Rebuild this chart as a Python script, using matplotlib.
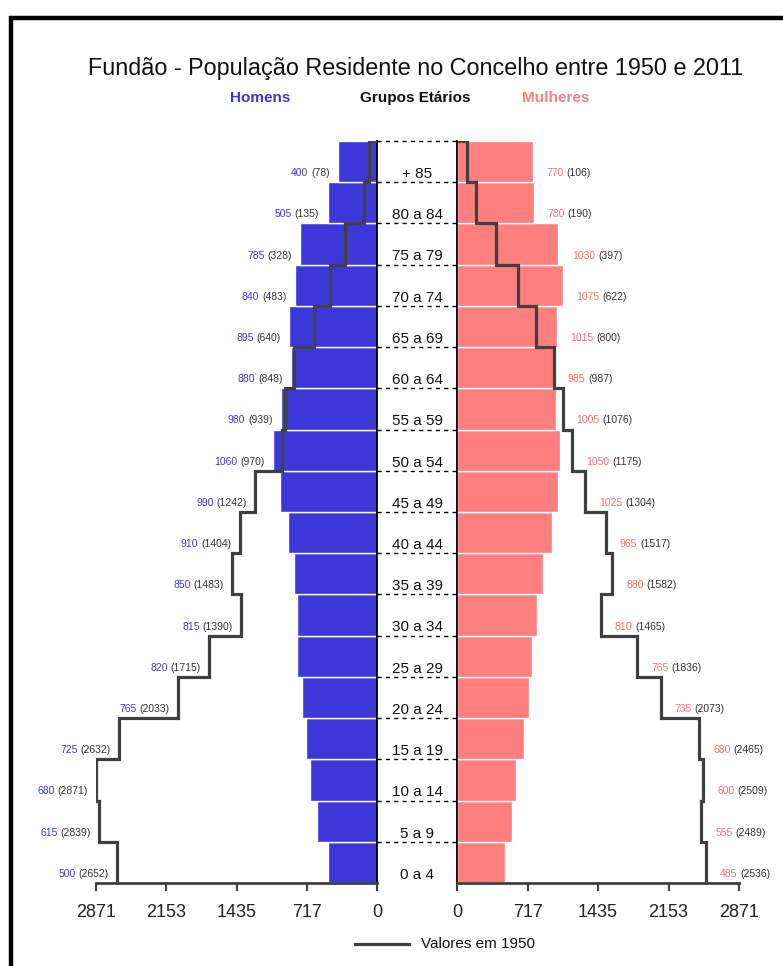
import numpy as np
import matplotlib
matplotlib.use("Agg")
import matplotlib.pyplot as plt
from matplotlib.patches import Rectangle
from matplotlib.lines import Line2D
from matplotlib.offsetbox import TextArea, HPacker, AnnotationBbox

plt.rcParams['font.family'] = ['Liberation Sans', 'DejaVu Sans']

# ---- data (bottom to top) ----
age_groups = ["0 a 4", "5 a 9", "10 a 14", "15 a 19", "20 a 24", "25 a 29",
              "30 a 34", "35 a 39", "40 a 44", "45 a 49", "50 a 54", "55 a 59",
              "60 a 64", "65 a 69", "70 a 74", "75 a 79", "80 a 84", "+ 85"]
men_2011 = [500, 615, 680, 725, 765, 820, 815, 850, 910, 990, 1060, 980,
            880, 895, 840, 785, 505, 400]
men_1950 = [2652, 2839, 2871, 2632, 2033, 1715, 1390, 1483, 1404, 1242, 970, 939,
            848, 640, 483, 328, 135, 78]
women_2011 = [485, 555, 600, 680, 735, 765, 810, 880, 965, 1025, 1050, 1005,
              985, 1015, 1075, 1030, 780, 770]
women_1950 = [2536, 2489, 2509, 2465, 2073, 1836, 1465, 1582, 1517, 1304, 1175, 1076,
              987, 800, 622, 397, 190, 106]
tick_values = [0, 717.75, 1435.5, 2153.25, 2871]
tick_labels = ["0", "717", "1435", "2153", "2871"]
x_max = 2871

BLUE = "#3b37d9"
PINK = "#ff7f7f"
BLUE_TXT = "#3c3ce0"
PINK_TXT = "#ff6f6f"
LINE = "#404040"

W, H = 783, 966
fig = plt.figure(figsize=(W / 100, H / 100), dpi=100)
fig.patch.set_facecolor("white")

def fx(px):
    return px / W

def fy(py):
    return 1 - py / H

top_px, bot_px = 141, 883
ax_h = fy(bot_px)
ax_ht = fy(top_px) - fy(bot_px)
axL = fig.add_axes([fx(96), ax_h, fx(377) - fx(96), ax_ht])
axR = fig.add_axes([fx(457), ax_h, fx(739) - fx(457), ax_ht])
axM = fig.add_axes([fx(377), ax_h, fx(457) - fx(377), ax_ht])

n = len(age_groups)
y = np.arange(n)

def step_path(vals):
    vals = np.asarray(vals)[::-1]
    ys_top = (np.arange(n) + 0.5)[::-1]
    xs = np.concatenate([[0], np.repeat(vals, 2)])
    ys = np.concatenate([[n - 0.5], np.ravel(np.column_stack([ys_top, ys_top - 1]))])
    return xs, ys

for ax, vals, vals50, col in [(axL, men_2011, men_1950, BLUE),
                              (axR, women_2011, women_1950, PINK)]:
    ax.barh(y, vals, height=1.0, color=col, edgecolor="white", linewidth=1.0, zorder=2)
    xs, ys = step_path(vals50)
    ax.plot(xs, ys, color=LINE, lw=2.3, zorder=3, solid_joinstyle="miter",
            solid_capstyle="butt")
    ax.set_ylim(-0.5, n - 0.5)
    ax.set_yticks([])
    ax.set_xticks(tick_values)
    ax.set_xticklabels(tick_labels)
    ax.tick_params(axis="x", direction="out", length=6, width=1.5, color=LINE,
                   pad=9, labelsize=13, labelcolor="#222222")
    ax.spines["top"].set_visible(False)
    ax.spines["bottom"].set_color(LINE)
    ax.spines["bottom"].set_linewidth(2)
    ax.set_facecolor("none")

axL.set_xlim(x_max, 0)
axL.spines["left"].set_visible(False)
axL.spines["right"].set_color("black")
axL.spines["right"].set_linewidth(1.3)
axR.set_xlim(0, x_max)
axR.spines["right"].set_visible(False)
axR.spines["left"].set_color("black")
axR.spines["left"].set_linewidth(1.3)

# middle axis with age labels and dashed separators
axM.set_xlim(0, 1)
axM.set_ylim(-0.5, n - 0.5)
axM.axis("off")
for i in range(n):
    axM.plot([0, 1], [i + 0.5, i + 0.5], color="black", lw=1.0,
             linestyle=(0, (3, 3)), clip_on=False)
    axM.text(0.5, i - 0.3, age_groups[i], ha="center", va="center",
             fontsize=11, color="#111111")

# side value labels
def side_label(ax, xval, yval, main, old, col, left):
    ta1 = TextArea(str(main), textprops=dict(color=col, fontsize=7.5))
    ta2 = TextArea("(%d)" % old, textprops=dict(color="#333333", fontsize=7.5))
    box = HPacker(children=[ta1, ta2], align="center", pad=0, sep=2)
    ab = AnnotationBbox(box, (xval, yval), xybox=((-6 if left else 10), 0),
                        xycoords="data", boxcoords="offset points",
                        box_alignment=((1, 0.5) if left else (0, 0.5)),
                        frameon=False, pad=0, annotation_clip=False)
    ax.add_artist(ab)

for i in range(n):
    side_label(axL, max(men_2011[i], men_1950[i]), i - 0.28,
               men_2011[i], men_1950[i], BLUE_TXT, True)
    side_label(axR, max(women_2011[i], women_1950[i]), i - 0.28,
               women_2011[i], women_1950[i], PINK_TXT, False)

# titles
fig.text(fx(416), fy(68), "Fundão - População Residente no Concelho entre 1950 e 2011",
         ha="center", va="center", fontsize=16.8, color="#111111")
fig.text(fx(260), fy(98), "Homens", ha="center", va="center", fontsize=11,
         fontweight="bold", color=BLUE)
fig.text(fx(415), fy(98), "Grupos Etários", ha="center", va="center", fontsize=11,
         fontweight="bold", color="#111111")
fig.text(fx(556), fy(98), "Mulheres", ha="center", va="center", fontsize=11,
         fontweight="bold", color=PINK)

# legend
fig.add_artist(Line2D([fx(355), fx(409)], [fy(944), fy(944)], color=LINE, lw=2.3,
                      transform=fig.transFigure))
fig.text(fx(421), fy(944), "Valores em 1950", ha="left", va="center",
         fontsize=11, color="#111111")

# outer frame (cropped at right/bottom)
fig.add_artist(Rectangle((fx(10.5), fy(985)), fx(800) - fx(10.5), fy(17.5) - fy(985),
                         transform=fig.transFigure, fill=False, edgecolor="black",
                         lw=3.2, clip_on=False))

fig.savefig("out.png", dpi=100, facecolor="white")
